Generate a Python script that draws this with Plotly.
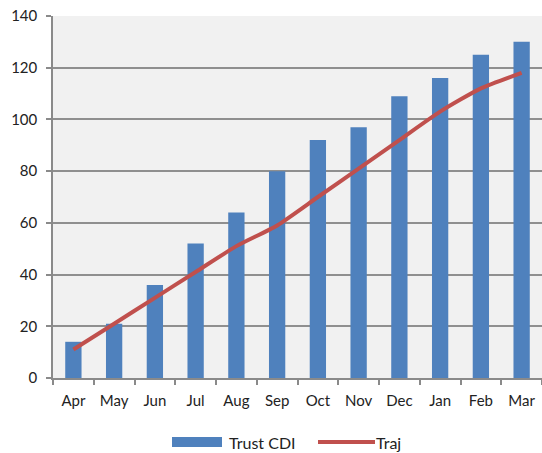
import plotly.graph_objects as go

months = ["Apr", "May", "Jun", "Jul", "Aug", "Sep", "Oct", "Nov", "Dec", "Jan", "Feb", "Mar"]
trust_cdi = [14, 21, 36, 52, 64, 80, 92, 97, 109, 116, 125, 130]
traj = [11, 21, 31, 41, 51, 59, 70, 81, 92, 103, 112, 118]
y_ticks = [0, 20, 40, 60, 80, 100, 120, 140]

BAR_COLOR = "#4F81BD"
LINE_COLOR = "#C0504D"
FONT = "Lato"
TEXT_COLOR = "#222"
FS = 15

fig = go.Figure()
fig.add_trace(go.Bar(x=months, y=trust_cdi, name="Trust CDI", marker=dict(color=BAR_COLOR, line=dict(width=0)),
                     showlegend=False))
fig.add_trace(go.Scatter(x=months, y=traj, name="Traj", mode="lines",
                         line=dict(color=LINE_COLOR, width=4, shape="spline", smoothing=0.6),
                         showlegend=False))

# Legend drawn as wide keys below the plot
fig.add_shape(type="rect", xref="paper", yref="paper", x0=(172 - 53) / 489, x1=(222 - 53) / 489,
              y0=-(447 - 378) / 362, y1=-(437 - 378) / 362, fillcolor=BAR_COLOR, line=dict(width=0))
fig.add_annotation(xref="paper", yref="paper", x=(227 - 53) / 489, y=-(442 - 378) / 362, text="Trust CDI",
                   showarrow=False, xanchor="left", yanchor="middle", font=dict(family=FONT, size=16, color=TEXT_COLOR))
fig.add_shape(type="line", xref="paper", yref="paper", x0=(318 - 53) / 489, x1=(375 - 53) / 489,
              y0=-(442 - 378) / 362, y1=-(442 - 378) / 362, line=dict(color=LINE_COLOR, width=4))
fig.add_annotation(xref="paper", yref="paper", x=(374 - 53) / 489, y=-(442 - 378) / 362, text="Traj",
                   showarrow=False, xanchor="left", yanchor="middle", font=dict(family=FONT, size=16, color=TEXT_COLOR))

fig.update_layout(
    width=542, height=453,
    margin=dict(l=53, r=0, t=16, b=75),
    paper_bgcolor="white",
    plot_bgcolor="#F1F1F1",
    bargap=0.6,
    font=dict(family=FONT, size=FS, color=TEXT_COLOR),
    xaxis=dict(type="category", showgrid=False, showline=True, linecolor="#8a8a8a", linewidth=1.5,
               ticks="outside", tickson="boundaries", ticklen=5, tickcolor="#8a8a8a", tickwidth=1.5,
               ticklabelstandoff=8, tickangle=0, automargin=False,
               tickfont=dict(family=FONT, size=FS, color=TEXT_COLOR)),
    yaxis=dict(range=[0, 140], tickvals=y_ticks, showgrid=True, gridcolor="#8f8f8f", gridwidth=1.5,
               showline=True, linecolor="#8a8a8a", linewidth=1.5, zeroline=False,
               ticks="outside", ticklen=5, tickcolor="#8a8a8a", tickwidth=1.5,
               ticklabelstandoff=6, automargin=False,
               tickfont=dict(family=FONT, size=FS, color=TEXT_COLOR)),
)

fig.write_html("out.html")
